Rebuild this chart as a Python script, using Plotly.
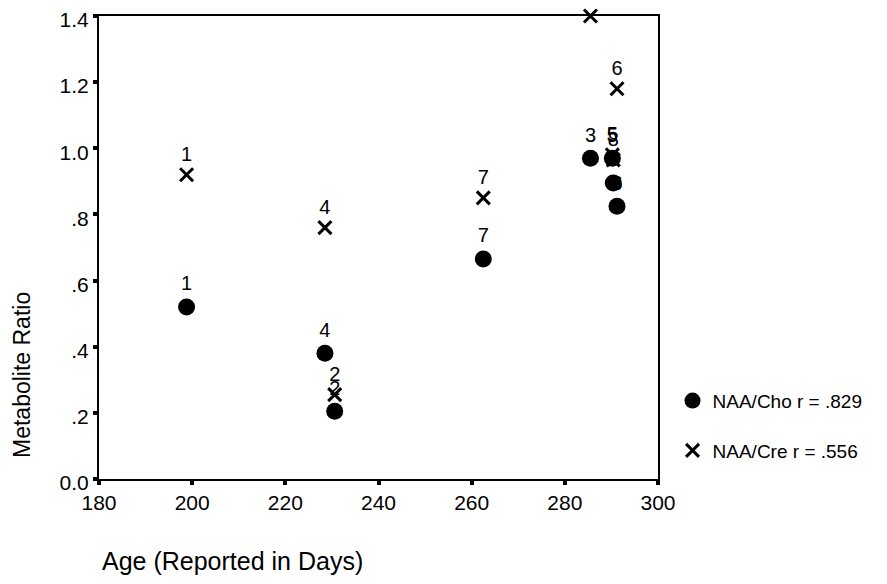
import plotly.graph_objects as go

subjects = ["1", "2", "3", "4", "5", "6", "7", "8"]
age_days = [198.8, 230.6, 285.5, 228.5, 290.2, 291.2, 262.5, 290.4]
naa_cho = [0.52, 0.205, 0.97, 0.38, 0.97, 0.825, 0.665, 0.895]
naa_cre = [0.92, 0.255, 1.40, 0.76, 0.98, 1.18, 0.85, 0.965]
cre_labels = ["1", "2", "", "4", "5", "6", "7", "8"]

x_ticks = [180, 200, 220, 240, 260, 280, 300]
y_ticks = [0.0, 0.2, 0.4, 0.6, 0.8, 1.0, 1.2, 1.4]
y_tick_text = ["0.0", ".2", ".4", ".6", ".8", "1.0", "1.2", "1.4"]

FONT = "Liberation Sans, Arial, sans-serif"

fig = go.Figure()
fig.add_trace(go.Scatter(
    x=age_days, y=naa_cho, mode="markers+text", text=subjects,
    textposition="top center", textfont=dict(size=20, color="black", family=FONT),
    marker=dict(symbol="circle", size=17, color="black"),
    name="NAA/Cho r = .829", legendgroup="a", cliponaxis=False,
))
fig.add_trace(go.Scatter(
    x=age_days, y=naa_cre, mode="markers+text", text=cre_labels,
    textposition="top center", textfont=dict(size=20, color="black", family=FONT),
    marker=dict(symbol="x-thin-open", size=13, color="black", line=dict(width=3, color="black")),
    name="NAA/Cre r = .556", legendgroup="b", cliponaxis=False,
))

fig.update_layout(
    width=871, height=568,
    margin=dict(l=91, r=221, t=8, b=97, autoexpand=False),
    paper_bgcolor="white", plot_bgcolor="white",
    font=dict(family=FONT, color="black", size=20),
    showlegend=True,
    legend=dict(x=1.026, y=0.21, xanchor="left", yanchor="top",
                font=dict(size=19, family=FONT, color="black"),
                tracegroupgap=22, traceorder="grouped",
                bgcolor="rgba(0,0,0,0)"),
    xaxis=dict(range=[180, 300], tickvals=x_ticks, ticktext=[str(v) for v in x_ticks],
               showgrid=False, zeroline=False, showline=True, linecolor="black", linewidth=2,
               mirror=True, ticks="outside", ticklen=4, tickwidth=4, tickcolor="black",
               tickfont=dict(size=21), ticklabeloverflow="allow", automargin=False),
    yaxis=dict(range=[0, 1.4], tickvals=y_ticks, ticktext=y_tick_text,
               showgrid=False, zeroline=False, showline=True, linecolor="black", linewidth=2,
               mirror=True, ticks="outside", ticklen=4, tickwidth=4, tickcolor="black",
               tickfont=dict(size=21), ticklabeloverflow="allow", automargin=False,
               ticklabelshift=4),
    annotations=[
        dict(text="Age (Reported in Days)", xref="paper", yref="paper",
             x=1 / 559, y=-(560 - 478) / 463, xanchor="left", yanchor="middle",
             showarrow=False, font=dict(size=25, family=FONT)),
        dict(text="Metabolite Ratio", xref="paper", yref="paper",
             x=-(99 - 22) / 559, y=(478 - 374) / 463, xanchor="center", yanchor="middle",
             textangle=-90, showarrow=False, font=dict(size=23, family=FONT)),
    ],
)

fig.write_html("out.html")
